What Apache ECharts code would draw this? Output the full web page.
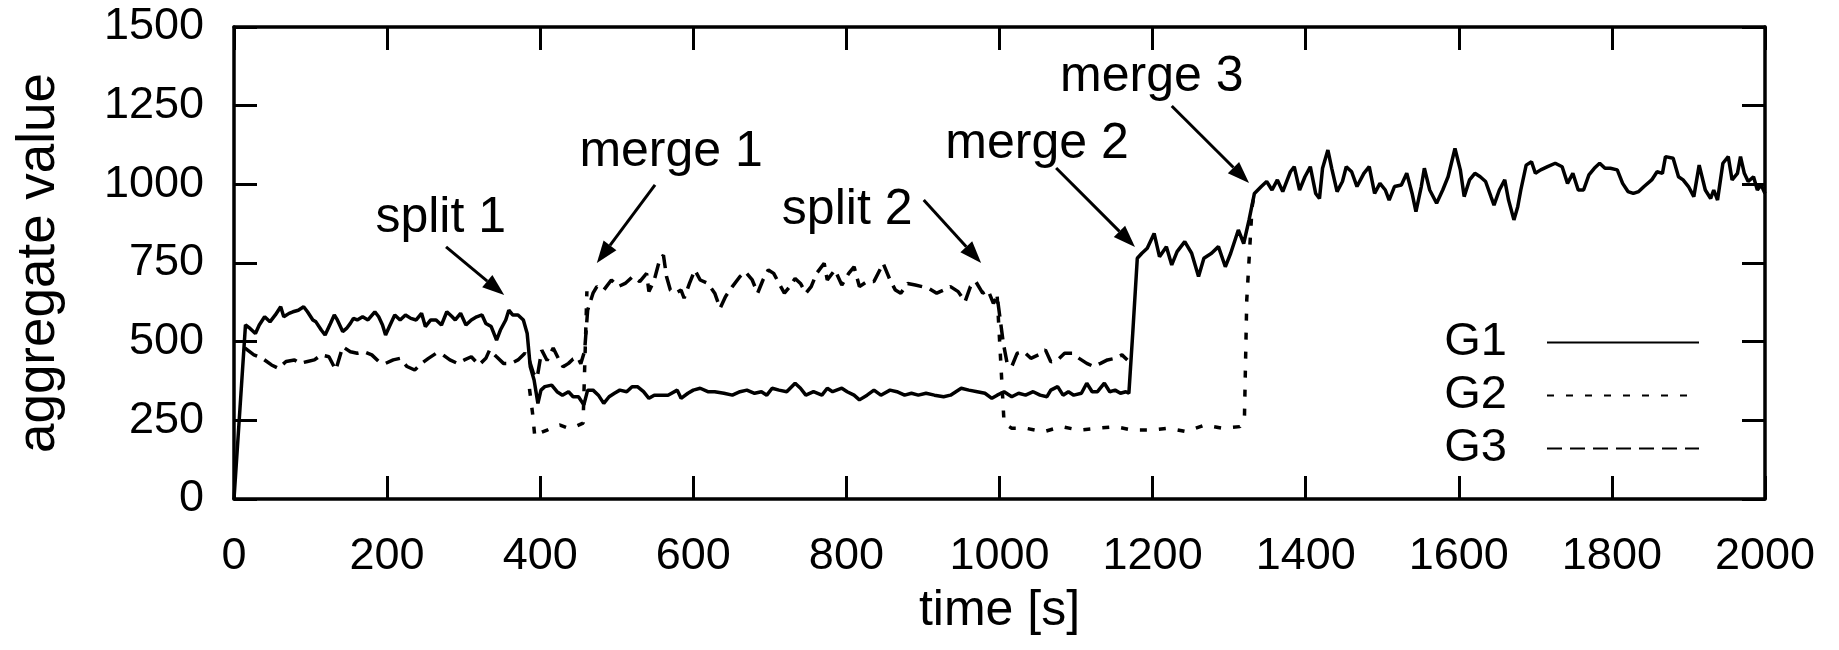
<!DOCTYPE html>
<html>
<head>
<meta charset="utf-8">
<script src="https://cdn.jsdelivr.net/npm/echarts@6/dist/echarts.min.js"></script>
<style>
  html, body { margin: 0; padding: 0; background: #fff; }
  #main { width: 1839px; height: 650px; }
</style>
</head>
<body>
<div id="main"></div>
<script>
  // [time s, value]
  var g1 = [[0,0],[15,553],[21,542],[28,526],[33,553],[40,579],[47,563],[54,585],[61,611],[65,579],[72,590],[77,595],[84,600],[91,611],[96,595],[103,569],[107,563],[114,537],[119,521],[126,558],[131,585],[135,569],[142,532],[147,542],[152,558],[156,574],[161,569],[168,579],[175,569],[184,595],[189,579],[194,553],[198,521],[203,548],[210,585],[217,569],[224,585],[231,574],[238,569],[245,590],[250,548],[257,569],[264,569],[271,553],[278,595],[285,579],[289,569],[296,590],[303,553],[310,569],[317,579],[324,585],[329,558],[336,548],[343,505],[348,537],[355,569],[359,600],[364,585],[371,585],[378,569],[383,526],[387,420],[392,378],[397,304],[401,346],[406,357],[415,362],[422,341],[429,330],[437,341],[443,325],[450,325],[457,299],[462,346],[469,346],[476,330],[483,304],[490,325],[497,336],[504,346],[513,341],[520,357],[527,357],[535,341],[542,320],[549,330],[558,330],[567,330],[579,346],[584,320],[593,336],[600,346],[609,352],[619,341],[628,341],[640,336],[651,330],[661,341],[670,346],[680,336],[689,341],[696,330],[703,352],[712,346],[722,341],[733,368],[740,352],[747,330],[757,341],[768,330],[775,352],[782,341],[794,352],[801,341],[810,330],[817,315],[827,330],[836,346],[845,330],[857,346],[866,341],[876,330],[885,336],[894,330],[904,336],[915,330],[927,325],[936,330],[950,352],[960,346],[971,341],[981,336],[990,320],[997,330],[1006,341],[1016,325],[1025,336],[1034,330],[1044,341],[1053,330],[1062,325],[1067,346],[1076,357],[1083,330],[1090,341],[1097,330],[1107,336],[1114,368],[1121,341],[1128,341],[1137,368],[1144,341],[1151,346],[1158,336],[1165,341],[1169,336],[1174,525],[1180,765],[1186,781],[1193,797],[1202,844],[1209,770],[1218,802],[1225,744],[1232,786],[1242,818],[1251,781],[1260,707],[1267,765],[1277,781],[1286,802],[1295,738],[1302,781],[1312,855],[1319,812],[1326,887],[1333,971],[1342,993],[1349,1009],[1356,982],[1363,1014],[1370,977],[1380,1040],[1385,1056],[1392,982],[1399,1024],[1406,1056],[1413,971],[1418,955],[1422,1051],[1429,1109],[1434,1051],[1441,977],[1448,1009],[1453,1056],[1460,1040],[1467,993],[1476,1035],[1483,1056],[1490,971],[1497,1003],[1504,982],[1509,950],[1516,993],[1525,998],[1532,1035],[1539,971],[1544,913],[1551,993],[1555,1051],[1562,982],[1571,940],[1579,982],[1586,1024],[1595,1114],[1602,1046],[1607,961],[1614,1014],[1621,1035],[1628,1024],[1635,1009],[1642,961],[1646,934],[1653,982],[1660,1014],[1665,950],[1672,887],[1677,929],[1681,982],[1688,1061],[1695,1072],[1700,1035],[1707,1046],[1716,1056],[1726,1067],[1735,1056],[1742,1003],[1749,1035],[1756,982],[1763,982],[1770,1030],[1777,1051],[1784,1067],[1791,1051],[1798,1051],[1807,1046],[1814,1003],[1821,977],[1828,971],[1835,977],[1842,993],[1852,1014],[1859,1040],[1866,1035],[1870,1088],[1880,1083],[1887,1024],[1893,1014],[1900,993],[1907,961],[1914,1061],[1922,982],[1929,955],[1933,982],[1938,950],[1945,1067],[1952,1088],[1957,1014],[1964,1035],[1968,1088],[1973,1035],[1978,1009],[1985,1024],[1990,982],[1995,998],[2000,971]];

  var g2 = [[386,350],[390,273],[393,197],[400,210],[409,219],[418,230],[426,235],[437,225],[446,230],[456,241],[461,660],[700,'-'],
    [997,643],[1006,240],[1016,225],[1034,225],[1058,214],[1081,230],[1104,219],[1128,225],[1151,230],[1174,219],[1197,219],[1221,225],[1244,214],[1268,235],[1291,225],[1314,230],[1320,260],[1323,632],[1330,929],[1333,971]];

  var g3 = [[14,480],[26,458],[37,447],[49,426],[58,415],[68,437],[79,442],[86,431],[96,437],[105,442],[114,458],[124,452],[133,410],[142,484],[152,468],[161,463],[170,468],[180,458],[189,437],[198,431],[208,442],[217,447],[226,421],[236,410],[245,431],[254,447],[264,463],[273,458],[282,442],[292,431],[301,442],[310,452],[320,426],[329,447],[334,474],[343,452],[352,431],[362,431],[371,442],[380,463],[385,447],[391,400],[396,385],[402,473],[409,440],[417,480],[424,445],[430,420],[437,431],[443,445],[449,451],[453,430],[458,470],[462,600],[469,654],[474,675],[483,664],[493,696],[502,675],[511,685],[521,707],[530,691],[539,717],[542,659],[549,696],[556,760],[561,775],[565,707],[570,664],[577,654],[584,664],[588,638],[595,685],[602,728],[609,696],[619,685],[628,654],[635,606],[642,643],[651,675],[661,707],[668,722],[677,696],[684,654],[691,696],[698,728],[705,717],[712,685],[719,654],[726,675],[733,701],[740,685],[747,654],[754,675],[761,717],[771,749],[775,696],[785,728],[794,680],[803,717],[810,738],[817,675],[827,691],[836,691],[848,749],[857,696],[864,664],[871,654],[880,685],[890,680],[899,675],[908,669],[918,654],[927,664],[936,675],[946,659],[955,627],[962,675],[969,691],[978,654],[985,664],[992,622],[997,643],[1001,569],[1005,495],[1010,431],[1016,421],[1023,463],[1032,468],[1041,447],[1051,458],[1060,474],[1067,436],[1076,442],[1085,463],[1095,463],[1104,447],[1114,431],[1123,421],[1132,431],[1141,442],[1151,447],[1160,458],[1167,442]];

  var seriesNames = ['G1', 'G2', 'G3'];

  // annotation text centre, arrow start, arrow tip (data coords)
  var notes = [
    { text: 'split 1', label: [270, 893], from: [277, 801], to: [353, 648] },
    { text: 'merge 1', label: [571, 1103], from: [550, 998], to: [474, 750] },
    { text: 'split 2', label: [801, 918], from: [901, 950], to: [976, 750] },
    { text: 'merge 2', label: [1049, 1128], from: [1074, 1052], to: [1177, 801] },
    { text: 'merge 3', label: [1199, 1341], from: [1225, 1249], to: [1326, 1004] }
  ];

  var font = '"Liberation Sans", Arial, Helvetica, sans-serif';
  var chart = echarts.init(document.getElementById('main'));

  function plain(v) { return String(v); }

  function axis(opts) {
    return Object.assign({
      type: 'value',
      axisLine: { show: true, onZero: false, lineStyle: { color: '#000', width: 3.5 } },
      axisTick: { show: true, inside: true, length: 23, lineStyle: { color: '#000', width: 3 } },
      splitLine: { show: false },
      axisLabel: { show: false }
    }, opts);
  }

  var tickFont = { show: true, color: '#000', fontFamily: font, fontSize: 45, formatter: plain };

  var option = {
    animation: false,
    backgroundColor: '#fff',
    grid: { left: 234, right: 74, top: 27, bottom: 151, outerBoundsMode: 'none' },
    legend: {
      data: seriesNames,
      orient: 'vertical',
      right: 134,
      top: 311,
      align: 'right',
      itemWidth: 152,
      itemHeight: 20,
      itemGap: 0,
      selectedMode: false,
      itemStyle: { opacity: 0 },
      textStyle: { color: '#000', fontFamily: font, fontSize: 47, lineHeight: 53, padding: [0, 35, 0, 0] }
    },
    xAxis: [
      axis({ min: 0, max: 2000, interval: 200, position: 'bottom', name: 'time [s]',
        nameLocation: 'middle', nameGap: 87,
        nameTextStyle: { color: '#000', fontFamily: font, fontSize: 50 },
        axisLabel: Object.assign({ margin: 35 }, tickFont) }),
      axis({ min: 0, max: 2000, interval: 200, position: 'top' })
    ],
    yAxis: [
      axis({ min: 0, max: 1500, interval: 250, position: 'left', name: 'aggregate value',
        nameLocation: 'middle', nameGap: 168,
        nameTextStyle: { color: '#000', fontFamily: font, fontSize: 53 },
        axisLabel: Object.assign({ margin: 30 }, tickFont) }),
      axis({ min: 0, max: 1500, interval: 250, position: 'right' })
    ],
    series: [
      { name: 'G1', type: 'line', data: g1, symbol: 'none', connectNulls: false,
        lineStyle: { color: '#000', width: 3.5, type: 'solid' }, itemStyle: { color: '#000' } },
      { name: 'G2', type: 'line', data: g2, symbol: 'none', connectNulls: false,
        lineStyle: { color: '#000', width: 3.5, type: [7, 12] }, itemStyle: { color: '#000' } },
      { name: 'G3', type: 'line', data: g3, symbol: 'none', connectNulls: false,
        lineStyle: { color: '#000', width: 3.5, type: [15, 8] }, itemStyle: { color: '#000' } }
    ]
  };
  chart.setOption(option);

  // annotations with arrows
  var gfx = [];
  notes.forEach(function (n) {
    var p = chart.convertToPixel({ gridIndex: 0 }, n.label);
    gfx.push({
      type: 'text', x: p[0], y: p[1], silent: true,
      style: { text: n.text, fill: '#000', fontFamily: font, fontSize: 50, align: 'center', verticalAlign: 'middle' }
    });
    var a = chart.convertToPixel({ gridIndex: 0 }, n.from);
    var b = chart.convertToPixel({ gridIndex: 0 }, n.to);
    var dx = b[0] - a[0], dy = b[1] - a[1];
    var len = Math.sqrt(dx * dx + dy * dy);
    var ux = dx / len, uy = dy / len;
    var hl = 22, hw = 8;
    var bx = b[0] - ux * hl, by = b[1] - uy * hl;
    gfx.push({ type: 'line', silent: true, shape: { x1: a[0], y1: a[1], x2: bx, y2: by },
      style: { stroke: '#000', lineWidth: 3 } });
    gfx.push({ type: 'polygon', silent: true,
      shape: { points: [[b[0], b[1]], [bx - uy * hw, by + ux * hw], [bx + uy * hw, by - ux * hw]] },
      style: { fill: '#000' } });
  });
  chart.setOption({ graphic: gfx });
</script>
</body>
</html>
